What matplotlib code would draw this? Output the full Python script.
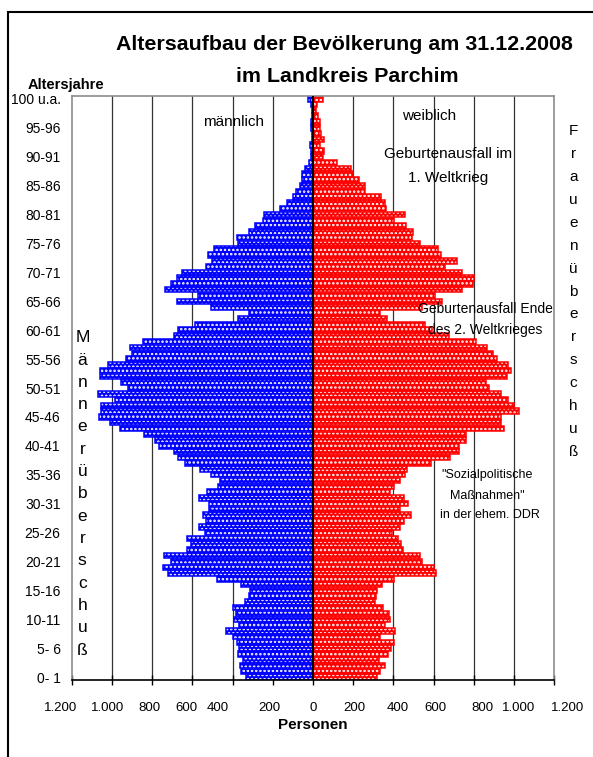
import numpy as np
import matplotlib
matplotlib.use("Agg")
import matplotlib.pyplot as plt
from matplotlib import font_manager
from matplotlib.patches import Rectangle

plt.rcParams['font.family'] = ['Liberation Sans', 'DejaVu Sans']
plt.rcParams['hatch.linewidth'] = 1.2

# the original uses squeezed Arial; take the narrow cut if it is there
installed = {f.name for f in font_manager.fontManager.ttflist}
if 'Liberation Sans Narrow' in installed:
    title_font, title_size = 'Liberation Sans Narrow', 18.5
else:
    title_font, title_size = 'Liberation Sans', 15.4

# age 0 ... 100 (100 = "100 u.a.")
ages = np.arange(0, 101)
maenner = np.array([
    332, 360, 362, 350, 375, 370, 380, 398, 433, 367,
    392, 383, 398, 337, 320, 315, 360, 475, 722, 745,
    708, 743, 627, 607, 627, 537, 569, 534, 547, 518,
    518, 567, 528, 473, 461, 506, 561, 639, 669, 693,
    765, 785, 838, 958, 1008, 1062, 1052, 1055, 987, 1067,
    922, 955, 1058, 1060, 1020, 931, 901, 909, 843, 693,
    669, 586, 373, 320, 507, 677, 574, 735, 705, 674,
    649, 531, 504, 522, 493, 373, 377, 320, 290, 251,
    242, 163, 129, 101, 83, 63, 57, 53, 40, 21,
    10, 10, 13, 7, 7, 10, 8, 7, 7, 10,
    27])
frauen = np.array([
    319, 333, 356, 329, 372, 386, 402, 333, 407, 357,
    381, 377, 346, 306, 313, 316, 344, 402, 611, 600,
    543, 530, 449, 440, 422, 394, 435, 452, 485, 435,
    472, 455, 382, 402, 432, 457, 465, 585, 681, 724,
    727, 762, 762, 949, 933, 933, 1024, 999, 969, 933,
    875, 858, 966, 983, 969, 913, 896, 863, 812, 676,
    590, 555, 369, 332, 540, 643, 606, 742, 797, 803,
    739, 654, 717, 638, 621, 530, 490, 497, 464, 402,
    457, 361, 357, 336, 261, 258, 228, 198, 190, 120,
    50, 53, 37, 53, 42, 33, 33, 23, 15, 20,
    48])

ytick_ages = list(range(0, 100, 5)) + [100]
ytick_labels = ['%d-%d' % (a, a + 1) for a in range(0, 100, 5)] + ['100 u.a.']
ytick_labels[0] = '0- 1'
ytick_labels[1] = '5- 6'

xticks = np.arange(-1200, 1201, 200)
xlabels = ['1.200', '1.000', '800', '600', '400', '200', '0',
           '200', '400', '600', '800', '1.000', '1.200']
# where the labels sit in the original (they drift off the ticks)
xlabel_pos = [-1257, -1020, -811, -630, -476, -219, 0,
              204, 420, 611, 841, 1022, 1264]

fig = plt.figure(figsize=(5.93, 7.57), dpi=100)
ax = fig.add_axes([71.7 / 593, 77 / 757, 482.6 / 593, 584 / 757])

for x in xticks[1:-1]:
    ax.axvline(x, color='#333333', lw=0.9, zorder=0)

# patterned fill (white dots on colour), then the outline
for vals, col in [(-maenner, '#0000ff'), (frauen, '#ff0000')]:
    ax.barh(ages, vals, height=0.95, color=col, edgecolor='white',
            hatch='....', lw=0, zorder=2)
    ax.barh(ages, vals, height=0.95, facecolor='none', edgecolor=col,
            lw=1.1, zorder=2)
ax.axvline(0, color='black', lw=1.5, zorder=3)

ax.set_xlim(-1200, 1200)
ax.set_ylim(-0.5, 100.5)
ax.set_xticks(xticks)
ax.set_xticklabels([])
ax.tick_params(axis='x', direction='inout', length=7, width=1, color='black')
ax.set_yticks(ytick_ages)
ax.set_yticklabels(ytick_labels, fontsize=10)
ax.tick_params(axis='y', length=0, pad=8)
for s in ['left', 'top', 'right']:
    ax.spines[s].set_color('#8c8c8c')
    ax.spines[s].set_linewidth(1.2)
ax.spines['bottom'].set_color('black')
ax.spines['bottom'].set_linewidth(1.2)

trans = ax.get_xaxis_transform()
for lab, xp in zip(xlabels, xlabel_pos):
    ax.text(xp, -0.048, lab, transform=trans, ha='center', va='center',
            fontsize=9.5, clip_on=False)
ax.text(0, -0.077, 'Personen', transform=trans, ha='center', va='center',
        fontsize=11, fontweight='bold')

# annotations inside the plot
ax.text(-396, 96.0, 'männlich', ha='center', va='center', fontsize=11)
ax.text(575, 97.1, 'weiblich', ha='center', va='center', fontsize=11)
ax.text(670, 90.4, 'Geburtenausfall im', ha='center', va='center', fontsize=11)
ax.text(674, 86.4, '1. Weltkrieg', ha='center', va='center', fontsize=11)
ax.text(858, 63.7, 'Geburtenausfall Ende', ha='center', va='center', fontsize=10)
ax.text(858, 60.1, 'des 2. Weltkrieges', ha='center', va='center', fontsize=10)
ax.text(868, 35.0, '"Sozialpolitische', ha='center', va='center', fontsize=9)
ax.text(868, 31.4, 'Maßnahmen"', ha='center', va='center', fontsize=9)
ax.text(878, 28.0, 'in der ehem. DDR', ha='center', va='center', fontsize=9)

for i, ch in enumerate('Männerüberschuß'):
    ax.text(-1147, 58.7 - i * 3.86, ch, ha='center', va='center', fontsize=12.5)
for i, ch in enumerate('Frauenüberschuß'):
    ax.text(1296, 94.4 - i * 3.96, ch, ha='center', va='center', fontsize=11,
            clip_on=False)

fig.text(344 / 593, 1 - 45 / 757, 'Altersaufbau der Bevölkerung am 31.12.2008',
         ha='center', va='center', fontsize=title_size, fontweight='bold',
         family=[title_font, 'Liberation Sans', 'DejaVu Sans'])
fig.text(347 / 593, 1 - 76 / 757, 'im Landkreis Parchim',
         ha='center', va='center', fontsize=title_size, fontweight='bold',
         family=[title_font, 'Liberation Sans', 'DejaVu Sans'])
fig.text(66 / 593, 1 - 85 / 757, 'Altersjahre', ha='center', va='center',
         fontsize=10.5, fontweight='bold')

fig.add_artist(Rectangle((7.5 / 593, -0.1), 1.2, 1.1 - 12 / 757,
                         transform=fig.transFigure, fill=False,
                         edgecolor='black', lw=1.5))

fig.savefig('out.png', dpi=100)
